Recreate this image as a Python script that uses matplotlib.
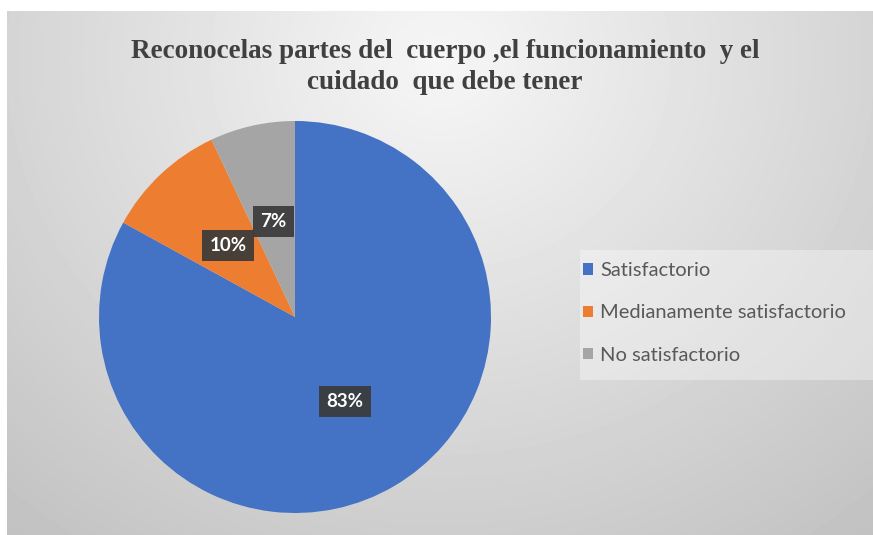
import numpy as np
import matplotlib.pyplot as plt
from matplotlib.patches import Rectangle

categorias = ["Satisfactorio", "Medianamente satisfactorio", "No satisfactorio"]
porcentajes = [83, 10, 7]
colores = ["#4472C4", "#ED7D31", "#A5A5A5"]
titulo = "Reconocelas partes del  cuerpo ,el funcionamiento  y el\ncuidado  que debe tener"

W, H = 873, 535
fig = plt.figure(figsize=(W / 100, H / 100), dpi=100)
fig.patch.set_facecolor("white")

# fondo del grafico: degradado radial claro arriba, gris hacia los bordes
x0, y0 = 7, 11
bg = fig.add_axes([x0 / W, 0, 1 - x0 / W, 1 - y0 / H], zorder=-2)
gx, gy = np.meshgrid(np.arange(x0, W), np.arange(y0, H))
d = np.hypot(gx - 440, (gy - 60) * 1.1)
grad = np.clip(0.965 - 0.19 * d / 620, 0, 1)
bg.imshow(grad, cmap="gray", vmin=0, vmax=1, aspect="auto", interpolation="bilinear")
bg.axis("off")

# banda clara detras de la leyenda
fig.patches.append(Rectangle((580 / W, 1 - 380 / H), 1 - 580 / W, 130 / H,
                             transform=fig.transFigure, facecolor="white",
                             alpha=0.35, edgecolor="none", zorder=-1))

cx, cy, r = 295, 317, 196
ax = fig.add_axes([(cx - r) / W, (H - cy - r) / H, 2 * r / W, 2 * r / H], zorder=1)
wedges, _, autotexts = ax.pie(
    porcentajes, colors=colores, startangle=90, counterclock=False,
    autopct=lambda p: "{:.0f}%".format(p), pctdistance=0.5,
    wedgeprops=dict(linewidth=0),
    textprops=dict(color="white", fontweight="bold", fontsize=13.5, family="Lato"))
for t in autotexts:
    t.set_bbox(dict(boxstyle="square,pad=0.38", facecolor="#3a3a3a", edgecolor="none", alpha=0.92))
ax.set_aspect("equal")
ax.set_xlim(-1, 1)
ax.set_ylim(-1, 1)

fig.text(445 / W, 1 - 67 / H, titulo, ha="center", va="center", fontsize=19.5,
         fontweight="bold", family="Liberation Serif", color="#404040", linespacing=1.3)

leg = ax.legend(wedges, categorias, loc="center left", bbox_to_anchor=(565 / W, 1 - 313 / H),
                bbox_transform=fig.transFigure, frameon=False,
                handlelength=0.5, handleheight=0.5, handletextpad=0.35, labelspacing=1.25,
                prop=dict(family="Lato", size=14.5))
for t in leg.get_texts():
    t.set_color("#595959")

plt.savefig("out.png", dpi=100)
